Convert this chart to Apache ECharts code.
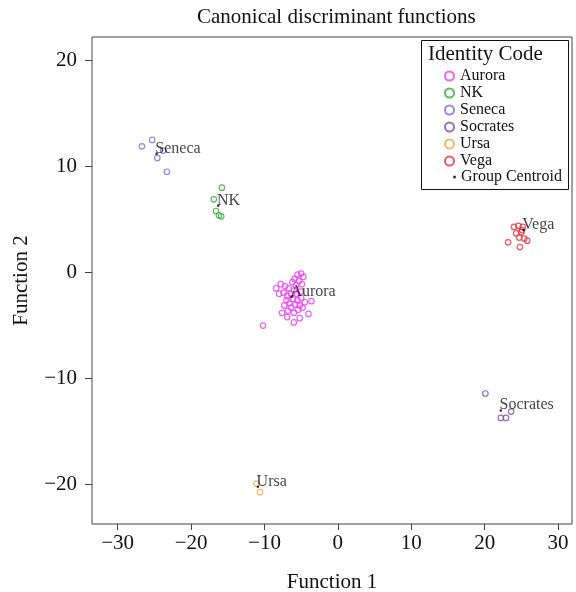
<!DOCTYPE html>
<html>
<head>
<meta charset="utf-8">
<script src="https://cdn.jsdelivr.net/npm/echarts@6/dist/echarts.min.js"></script>
<style>html,body{margin:0;padding:0;background:#fff}#c{width:576px;height:592px}</style>
</head>
<body>
<div id="c"></div>
<script>
// ---- data ----
const groups = ['Aurora', 'NK', 'Seneca', 'Socrates', 'Ursa', 'Vega'];
const aurora = [
  [-5.5,-0.2],[-5.0,-0.1],[-4.7,-0.4],[-5.9,-0.6],[-5.3,-0.8],[-4.9,-1.1],[-5.7,-1.2],[-6.2,-0.9],
  [-8.4,-1.5],[-7.8,-1.1],[-7.2,-1.3],[-6.7,-1.5],[-8.0,-2.0],[-7.4,-1.9],[-6.9,-2.2],
  [-7.0,-2.6],[-6.4,-2.0],[-6.0,-1.7],[-5.6,-2.0],[-5.1,-1.8],[-6.6,-2.9],[-6.1,-2.5],[-5.5,-2.6],[-5.0,-2.4],
  [-7.3,-3.1],[-6.4,-3.3],[-5.8,-3.0],[-5.2,-3.1],[-6.8,-3.6],[-6.0,-3.8],[-5.4,-3.5],[-4.8,-3.3],
  [-4.5,-2.8],[-3.6,-2.7],[-4.0,-3.9],
  [-6.9,-4.2],[-6.0,-4.7],[-5.2,-4.3],[-7.6,-3.8],
  [-10.2,-5.0]
];
const nk = [[-15.8,8.0],[-16.9,6.9],[-16.6,5.8],[-16.2,5.4],[-15.9,5.3]];
const seneca = [[-26.7,11.9],[-25.3,12.5],[-23.8,11.5],[-24.6,10.8],[-23.3,9.5]];
const socrates = [[20.1,-11.4],[23.6,-13.1],[22.2,-13.7],[22.9,-13.7]];
const ursa = [[-11.1,-19.9],[-10.6,-20.7]];
const vega = [
  [23.2,2.85],[24.8,2.4],[24.0,4.3],[24.6,4.4],[25.2,4.3],[24.3,3.7],
  [25.0,3.8],[24.7,3.3],[25.4,3.2],[25.8,3.0],[25.1,4.0]
];
const centroids = [[-6.3,-2.3],[-16.3,6.3],[-24.7,11.2],[22.2,-13.0],[-10.9,-20.2],[25.3,4.0]];
const xTicks = [-30,-20,-10,0,10,20,30];
const yTicks = [-20,-10,0,10,20];

// ---- styling ----
const groupData = [aurora, nk, seneca, socrates, ursa, vega];
const colors = ['#f03cf0','#33aa33','#6f6fee','#8a4ca0','#f0a840','#e83040'];
const FONT = "'Liberation Serif','Times New Roman',serif";
const fmt = v => (v < 0 ? '\u2212' + Math.abs(v) : String(v));

const series = groups.map((g, i) => ({
  name: g,
  type: 'scatter',
  data: groupData[i],
  symbol: 'circle',
  symbolSize: 5.5,
  itemStyle: { color: 'rgba(0,0,0,0)', borderColor: colors[i], borderWidth: 1.2 },
  emphasis: { disabled: true },
  z: 2
}));
series.push({
  name: 'Group Centroid',
  type: 'scatter',
  data: centroids.map((c, i) => ({ value: c, name: groups[i] })),
  symbol: 'circle',
  symbolSize: 2.5,
  itemStyle: { color: '#000' },
  label: {
    show: true,
    formatter: p => p.name,
    position: [0, -4],
    align: 'left',
    verticalAlign: 'middle',
    fontFamily: FONT,
    fontSize: 16,
    color: '#111'
  },
  emphasis: { disabled: true },
  z: 3
});

const chart = echarts.init(document.getElementById('c'), null, { renderer: 'canvas' });
chart.setOption({
  animation: false,
  backgroundColor: '#fff',
  title: [
    { text: 'Canonical discriminant functions', left: 197, top: 7, padding: 0,
      textStyle: { fontFamily: FONT, fontSize: 21, fontWeight: 'normal', color: '#111' } },
    { text: 'Identity Code', left: 428, top: 44, padding: 0,
      textStyle: { fontFamily: FONT, fontSize: 21, fontWeight: 'normal', color: '#111' } }
  ],
  grid: { left: 92, right: 4, top: 37, bottom: 68, show: true, borderColor: '#444', borderWidth: 1,
    containLabel: false, outerBoundsMode: 'none' },
  xAxis: {
    type: 'value', min: -33.5, max: 31.9,
    name: 'Function 1', nameLocation: 'middle', nameGap: 48,
    nameTextStyle: { fontFamily: FONT, fontSize: 21, color: '#111' },
    axisLine: { show: false, onZero: false },
    splitLine: { show: false },
    axisTick: { show: true, length: 6, customValues: xTicks, lineStyle: { color: '#444' } },
    axisLabel: { customValues: xTicks, formatter: fmt, margin: 9,
      fontFamily: FONT, fontSize: 21, color: '#111' }
  },
  yAxis: {
    type: 'value', min: -23.7, max: 22.2,
    name: 'Function 2', nameLocation: 'middle', nameGap: 60, nameRotate: 90,
    nameTextStyle: { fontFamily: FONT, fontSize: 21, color: '#111' },
    axisLine: { show: false, onZero: false },
    splitLine: { show: false },
    axisTick: { show: true, length: 7, customValues: yTicks, lineStyle: { color: '#444' } },
    axisLabel: { customValues: yTicks, formatter: fmt, margin: 15,
      fontFamily: FONT, fontSize: 21, color: '#111' }
  },
  legend: [
    { data: groups, orient: 'vertical', left: 444, top: 68, padding: 0,
      itemWidth: 9, itemHeight: 9, itemGap: 1, selectedMode: false,
      icon: 'circle',
      textStyle: { fontFamily: FONT, fontSize: 16, color: '#111', padding: [0,0,0,1] } },
    { data: ['Group Centroid'], orient: 'vertical', left: 453, top: 169, padding: 0,
      itemWidth: 3, itemHeight: 3, selectedMode: false, icon: 'circle',
      textStyle: { fontFamily: FONT, fontSize: 16, color: '#111' } }
  ],
  graphic: [
    { type: 'rect', shape: { x: 421.5, y: 40.5, width: 147, height: 149 },
      style: { fill: 'none', stroke: '#111', lineWidth: 1 }, z: 10, silent: true }
  ],
  series: series
});
</script>
</body>
</html>
